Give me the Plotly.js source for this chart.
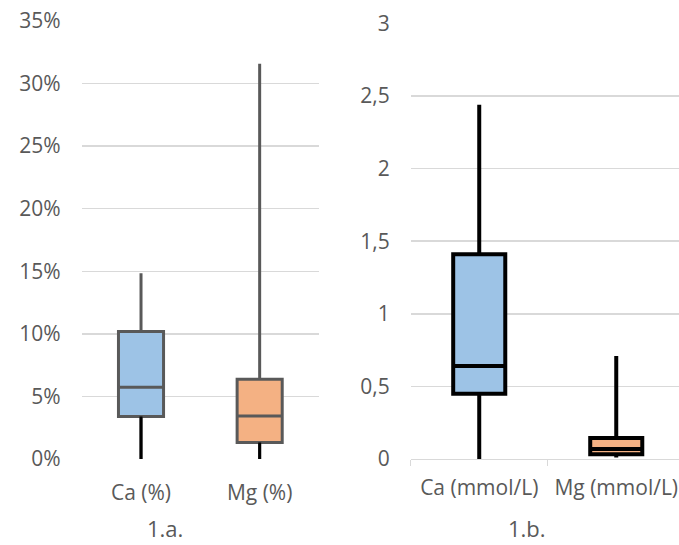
<!DOCTYPE html>
<html>
<head>
<meta charset="utf-8">
<script src="https://cdn.plot.ly/plotly-3.0.1.min.js"></script>
<style>html,body{margin:0;padding:0;background:#fff;}#chart{width:679px;height:545px;}</style>
</head>
<body>
<div id="chart"></div>
<script>
// Panel 1.a. (fractions, shown as percent)
const leftCats = ['Ca (%)', 'Mg (%)'];
const leftMin = [0, 0];
const leftQ1 = [0.0339, 0.0131];
const leftMedian = [0.0573, 0.0344];
const leftQ3 = [0.1019, 0.0637];
const leftMax = [0.1485, 0.3158];
const leftTickVals = [0, 0.05, 0.10, 0.15, 0.20, 0.25, 0.30, 0.35];

// Panel 1.b. (mmol/L)
const rightCats = ['Ca (mmol/L)', 'Mg (mmol/L)'];
const rightMin = [0, 0.01];
const rightQ1 = [0.45, 0.032];
const rightMedian = [0.64, 0.069];
const rightQ3 = [1.41, 0.145];
const rightMax = [2.44, 0.71];
const rightTickVals = [0, 0.5, 1, 1.5, 2, 2.5, 3];

const panelTitles = ['1.a.', '1.b.'];
const fills = ['#9DC3E6', '#F4B183'];

const textColor = '#595959';
const font = 'Open Sans, DejaVu Sans, sans-serif';
const traces = [];

leftCats.forEach((c, i) => {
  traces.push({
    type: 'box', xaxis: 'x', yaxis: 'y',
    x: [c], q1: [leftQ1[i]], median: [leftMedian[i]], q3: [leftQ3[i]],
    lowerfence: [leftMin[i]], upperfence: [leftMax[i]],
    fillcolor: fills[i], line: {color: '#595959', width: 3},
    width: 0.38, whiskerwidth: 0, boxpoints: false, hoverinfo: 'skip'
  });
});
leftCats.forEach((c, i) => {
  traces.push({
    type: 'scatter', mode: 'lines', xaxis: 'x', yaxis: 'y',
    x: [c, c], y: [leftMin[i], leftQ1[i]],
    line: {color: '#000000', width: 3}, hoverinfo: 'skip'
  });
});
rightCats.forEach((c, i) => {
  traces.push({
    type: 'box', xaxis: 'x2', yaxis: 'y2',
    x: [c], q1: [rightQ1[i]], median: [rightMedian[i]], q3: [rightQ3[i]],
    lowerfence: [rightMin[i]], upperfence: [rightMax[i]],
    fillcolor: fills[i], line: {color: '#000000', width: 4},
    width: 0.38, whiskerwidth: 0, boxpoints: false, hoverinfo: 'skip'
  });
});

const tickFont = {family: font, size: 21, color: textColor};
const layout = {
  width: 679, height: 545,
  margin: {l: 0, r: 0, t: 0, b: 0},
  paper_bgcolor: '#ffffff', plot_bgcolor: '#ffffff',
  showlegend: false,
  separators: ', ',
  font: {family: font, color: textColor},
  xaxis: {
    domain: [0.1203, 0.4698], type: 'category', categoryarray: leftCats,
    range: [-0.5, 1.5], showgrid: false, zeroline: false, showline: false,
    ticks: 'outside', ticklen: 6, tickcolor: 'rgba(0,0,0,0)',
    ticklabelstandoff: 9, tickfont: tickFont, fixedrange: true
  },
  yaxis: {
    domain: [0.1578, 0.9615], range: [0, 0.35], tickvals: leftTickVals, tickformat: '.0%',
    showgrid: true, gridcolor: '#D9D9D9', gridwidth: 1.5, zeroline: false, showline: false,
    ticks: '', ticklabelstandoff: 20, tickfont: tickFont, fixedrange: true
  },
  xaxis2: {
    domain: [0.6049, 1], type: 'category', categoryarray: rightCats, anchor: 'y2',
    range: [-0.5, 1.458], showgrid: false, zeroline: false,
    showline: true, linecolor: '#D9D9D9', linewidth: 1.5,
    ticks: 'outside', tickson: 'boundaries', ticklen: 6, tickcolor: '#D9D9D9', tickwidth: 1.5,
    ticklabelstandoff: 9, tickfont: tickFont, fixedrange: true
  },
  yaxis2: {
    domain: [0.1578, 0.9572], anchor: 'x2', range: [0, 3], tickvals: rightTickVals,
    showgrid: true, gridcolor: '#D9D9D9', gridwidth: 1.5, zeroline: false, showline: false,
    ticks: '', ticklabelstandoff: 20, tickfont: tickFont, fixedrange: true
  },
  annotations: [
    {text: panelTitles[0], xref: 'paper', yref: 'paper', x: 0.2423, y: 0.031,
     xanchor: 'center', yanchor: 'middle', showarrow: false, borderpad: 0,
     font: {family: font, size: 22, color: textColor}},
    {text: panelTitles[1], xref: 'paper', yref: 'paper', x: 0.7761, y: 0.031,
     xanchor: 'center', yanchor: 'middle', showarrow: false, borderpad: 0,
     font: {family: font, size: 22, color: textColor}}
  ]
};

Plotly.newPlot('chart', traces, layout, {displayModeBar: false, staticPlot: true});
</script>
</body>
</html>
